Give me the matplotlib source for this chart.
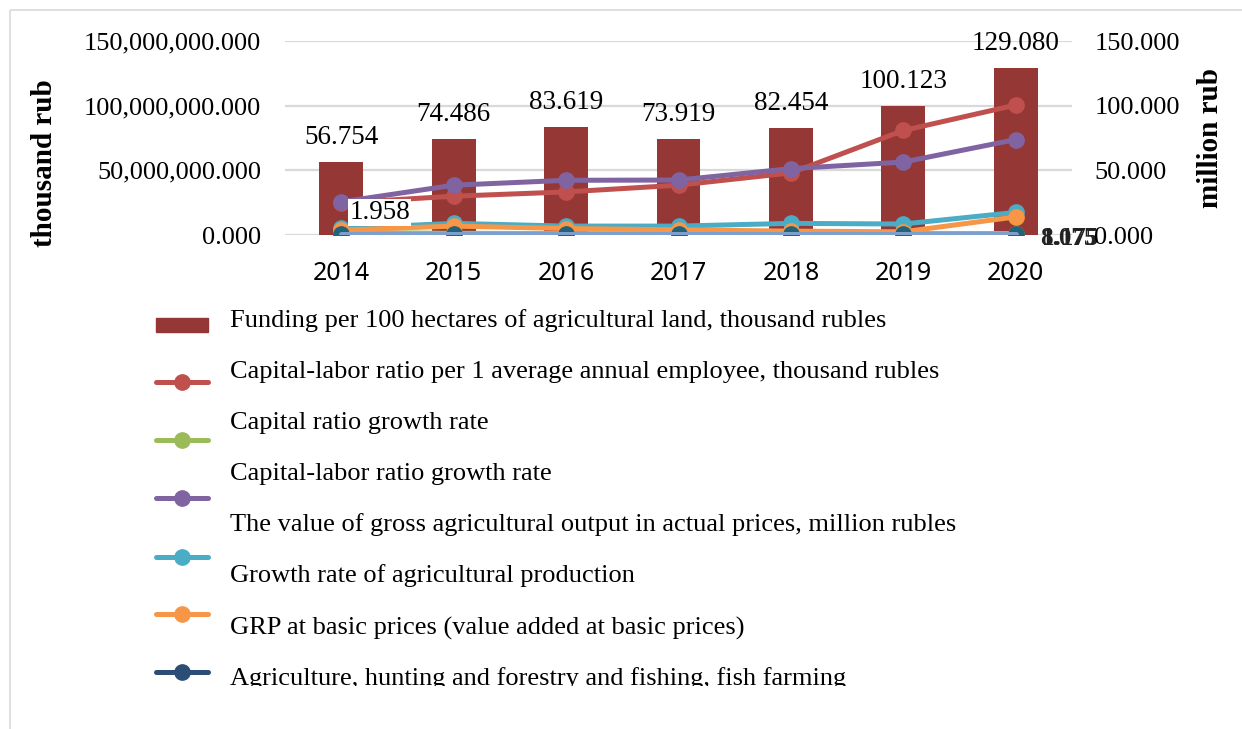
import numpy as np
import matplotlib
matplotlib.use("Agg")
import matplotlib.pyplot as plt
from matplotlib.patches import Rectangle
from matplotlib.transforms import Bbox, TransformedBbox

plt.rcParams['font.family'] = ['Liberation Serif', 'DejaVu Serif']

years = ['2014', '2015', '2016', '2017', '2018', '2019', '2020']
funding = [56.754, 74.486, 83.619, 73.919, 82.454, 100.123, 129.080]
cap_labor = [24.8, 30.0, 33.3, 38.5, 48.0, 80.8, 100.5]
cap_growth = [1.958, 1.3, 1.1, 0.9, 1.1, 1.2, 1.15]
cap_labor_growth = [25.6, 38.5, 42.3, 42.5, 51.3, 56.4, 73.8]
gross_output = [5.1, 9.0, 6.9, 6.9, 9.0, 8.5, 17.5]
growth_prod = [3.8, 6.9, 5.0, 4.0, 3.0, 2.5, 14.0]
grp = [0.6, 0.6, 0.6, 0.6, 0.6, 0.6, 0.6]
agriculture = [0.6, 0.6, 0.6, 0.6, 0.6, 0.6, 0.6]

legend_labels = [
    'Funding per 100 hectares of agricultural land, thousand rubles',
    'Capital-labor ratio per 1 average annual employee, thousand rubles',
    'Capital ratio growth rate',
    'Capital-labor ratio growth rate',
    'The value of gross agricultural output in actual prices, million rubles',
    'Growth rate of agricultural production',
    'GRP at basic prices (value added at basic prices)',
    'Agriculture, hunting and forestry and fishing, fish farming',
]

W, H = 1242, 729
fig = plt.figure(figsize=(W / 100, H / 100), dpi=100)

def px(x0, y0, x1, y1):
    return [x0 / W, 1 - y1 / H, (x1 - x0) / W, (y1 - y0) / H]

ax = fig.add_axes(px(285, 41, 1072, 235))
x = np.arange(len(years))

ax.set_xlim(-0.5, len(years) - 0.5)
ax.set_ylim(0, 150)
ax.set_yticks([0, 50, 100, 150])
ax.yaxis.grid(True, color='#d9d9d9', linewidth=1.6)
ax.set_axisbelow(True)
for s in ax.spines.values():
    s.set_visible(False)
ax.tick_params(length=0)
ax.set_yticklabels([f"{v * 1e6:,.3f}" for v in [0, 50, 100, 150]], fontsize=19)
ax.tick_params(axis='y', pad=17)
ax.set_xticks(x)
ax.set_xticklabels(years, fontsize=18, family=['Noto Sans', 'DejaVu Sans'])
ax.tick_params(axis='x', pad=19)

bars = ax.bar(x, funding, width=0.39, color='#953735', zorder=2)
for xi, v in zip(x, funding):
    ax.annotate(f"{v:.3f}", (xi, v), xytext=(0, 12), textcoords='offset pixels',
                ha='center', va='bottom', fontsize=19.5, zorder=5)

lw = 3.6
ms = 11
series = [
    (cap_labor, '#C0504D', '#C0504D'),
    (cap_growth, '#9BBB59', '#9BBB59'),
    (cap_labor_growth, '#8064A2', '#8064A2'),
    (gross_output, '#4BACC6', '#4BACC6'),
    (growth_prod, '#F79646', '#F79646'),
    (agriculture, '#2C4D75', '#23637A'),
]
for vals, c, mc in series:
    ax.plot(x, vals, color=c, lw=lw, marker='o', ms=ms, mfc=mc, mec=mc, zorder=3,
            solid_capstyle='round')
ax.plot(x, grp, color='#7D9FCD', lw=lw, zorder=3, solid_capstyle='round')

ax.annotate(f"{cap_growth[0]:.3f}", (x[0], cap_growth[0]), xytext=(8, 20),
            textcoords='offset pixels', ha='left', va='center', fontsize=19.5,
            bbox=dict(boxstyle='square,pad=0.05', fc='white', ec='none'), zorder=6)
ax.annotate("8.075", (x[-1], agriculture[-1]), xytext=(24, -4), textcoords='offset pixels',
            ha='left', va='center', fontsize=18, fontweight='bold', color='#222222', zorder=6)
ax.annotate("1.175", (x[-1], grp[-1]), xytext=(26, -4), textcoords='offset pixels',
            ha='left', va='center', fontsize=18, fontweight='bold', color='#222222', zorder=6)

ax2 = ax.twinx()
ax2.set_ylim(ax.get_ylim())
ax2.set_yticks([0, 50, 100, 150])
ax2.set_yticklabels([f"{v:.3f}" for v in [0, 50, 100, 150]], fontsize=19)
ax2.tick_params(length=0, pad=16)
for s in ax2.spines.values():
    s.set_visible(False)

fig.text(45 / W, 1 - 163 / H, 'thousand rub', rotation=90, fontsize=21,
         fontweight='bold', ha='center', va='center')
fig.text(1210 / W, 1 - 138 / H, 'million rub', rotation=90, fontsize=21,
         fontweight='bold', ha='center', va='center')

# legend drawn in pixel space
lg = fig.add_axes([0, 0, 1, 1], zorder=10)
lg.set_xlim(0, W)
lg.set_ylim(H, 0)
lg.axis('off')
lg.patch.set_alpha(0)

lg.add_patch(Rectangle((10, 10), W, H, fill=False, ec='#d9d9d9', lw=1.2))

text_y = [321, 372, 423, 474, 525, 576, 628, 679]
handle_y = [382, 440, 498, 557, 614, 672]
lg.add_patch(Rectangle((156, 318), 52, 14, color='#953735'))
handle_cols = ['#C0504D', '#9BBB59', '#8064A2', '#4BACC6', '#F79646', '#2C4D75']
for c, hy in zip(handle_cols, handle_y):
    lg.plot([156, 208], [hy, hy], color=c, lw=lw, solid_capstyle='round')
    lg.plot([182], [hy], 'o', color=c, ms=ms)
for lab, ty in zip(legend_labels, text_y):
    lg.text(230, ty, lab, fontsize=19, va='center', ha='left')
clip = Bbox.from_extents(0, 1 - 686 / H, 1, 1)
last = lg.texts[-1]
last.set_clip_box(TransformedBbox(clip, fig.transFigure))
last.set_clip_on(True)

fig.savefig('out.png', dpi=100)
